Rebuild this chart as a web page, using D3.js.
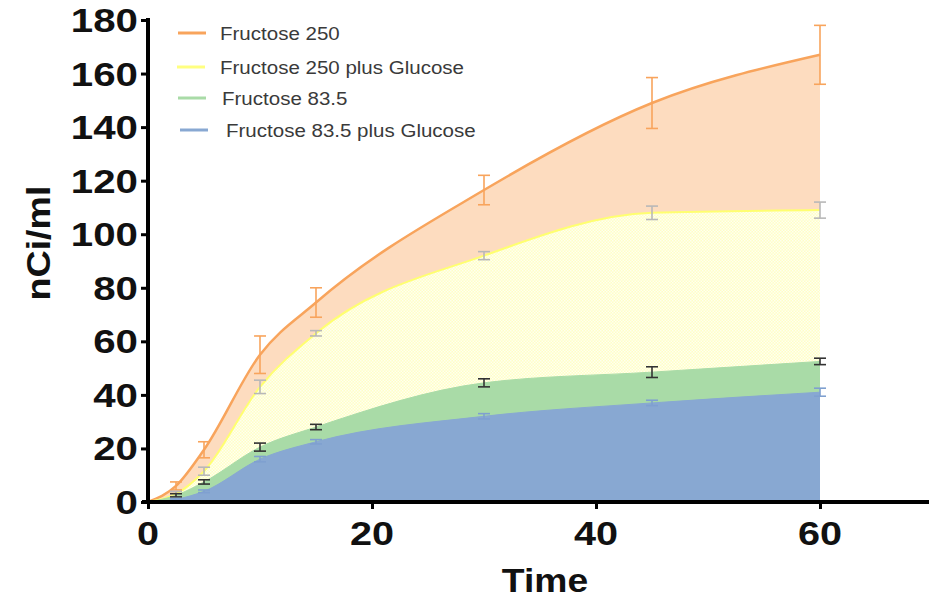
<!DOCTYPE html>
<html>
<head>
<meta charset="utf-8">
<script src="https://cdn.jsdelivr.net/npm/d3@7"></script>
<style>
  body { margin: 0; background: #fff; }
  svg { display: block; }
  .bold { font-family: "Liberation Sans", Arial, sans-serif; font-weight: bold; fill: #111; }
  .leg { font-family: "Liberation Sans", Arial, sans-serif; font-size: 19px; fill: #3a3a3a; }
</style>
</head>
<body>
<div id="chart"></div>
<script>
// time points (min)
const times = [0, 2.5, 5, 10, 15, 30, 45, 60];

const names = ['Fructose 250', 'Fructose 250 plus Glucose', 'Fructose 83.5', 'Fructose 83.5 plus Glucose'];

const fru250     = [0, 6, 19.5, 55, 74.5, 116.5, 149, 167];
const fru250Glc  = [0, 3, 11.5, 43, 63, 92, 108, 109];
const fru83      = [0, 2.5, 7.5, 20.5, 28, 44.5, 48.5, 52.5];
const fru83Glc   = [0, 1, 4, 16, 22.5, 32, 37, 41];

const err250     = [0, 1.5, 3, 7, 5.5, 5.5, 9.5, 11];
const err250Glc  = [0, 1, 1.5, 2.5, 1, 1.5, 2.5, 3];
const err83      = [0, 0.6, 0.8, 1.5, 1, 1.5, 2, 1.2];
const err83Glc   = [0, 0.3, 0.5, 1, 0.8, 1, 1, 1.5];

const xTicks = [0, 20, 40, 60];
const yTicks = [0, 20, 40, 60, 80, 100, 120, 140, 160, 180];

const W = 929, H = 603;

const svg = d3.select('#chart').append('svg')
  .attr('width', W)
  .attr('height', H);

const x = d3.scaleLinear().domain([0, 70]).range([148, 932]);
const y = d3.scaleLinear().domain([0, 180]).range([502, 20]);

// yellow dotted fill
const defs = svg.append('defs');
const pat = defs.append('pattern')
  .attr('id', 'dots')
  .attr('width', 3).attr('height', 3)
  .attr('patternUnits', 'userSpaceOnUse');
pat.append('rect').attr('width', 3).attr('height', 3).attr('fill', '#ffffc6');
pat.append('rect').attr('width', 1.5).attr('height', 1.5).attr('fill', '#fffff0');
pat.append('rect').attr('x', 1.5).attr('y', 1.5).attr('width', 1.5).attr('height', 1.5).attr('fill', '#fffff0');

const series = [
  { name: names[0], vals: fru250,    err: err250,    fill: '#fddcbf', line: '#f8a45c', bar: '#f8a45c', lw: 2.5 },
  { name: names[1], vals: fru250Glc, err: err250Glc, fill: 'url(#dots)', line: '#ffff70', bar: '#b8b8b8', lw: 2 },
  { name: names[2], vals: fru83,     err: err83,     fill: '#a9dba7', line: '#a9dba7', bar: '#333', lw: 1 },
  { name: names[3], vals: fru83Glc,  err: err83Glc,  fill: '#88a8d2', line: '#88a8d2', bar: '#7fa0d0', lw: 1 }
];

series.forEach(s => {
  s.pts = times.map((t, i) => ({ t: t, v: s.vals[i], e: s.err[i] }));
});

const area = d3.area()
  .x(d => x(d.t))
  .y0(y(0))
  .y1(d => y(d.v))
  .curve(d3.curveMonotoneX);

const line = d3.line()
  .x(d => x(d.t))
  .y(d => y(d.v))
  .curve(d3.curveMonotoneX);

const g = svg.append('g');

series.forEach(s => {
  g.append('path')
    .datum(s.pts)
    .attr('d', area)
    .attr('fill', s.fill);
  g.append('path')
    .datum(s.pts)
    .attr('d', line)
    .attr('fill', 'none')
    .attr('stroke', s.line)
    .attr('stroke-width', s.lw);
});

// error bars
series.forEach(s => {
  const eb = g.selectAll(null)
    .data(s.pts.filter(d => d.e > 0))
    .enter().append('g')
    .attr('stroke', s.bar)
    .attr('stroke-width', 1.6);
  eb.append('line')
    .attr('x1', d => x(d.t)).attr('x2', d => x(d.t))
    .attr('y1', d => y(d.v + d.e)).attr('y2', d => y(d.v - d.e));
  eb.append('line')
    .attr('x1', d => x(d.t) - 6).attr('x2', d => x(d.t) + 6)
    .attr('y1', d => y(d.v + d.e)).attr('y2', d => y(d.v + d.e));
  eb.append('line')
    .attr('x1', d => x(d.t) - 6).attr('x2', d => x(d.t) + 6)
    .attr('y1', d => y(d.v - d.e)).attr('y2', d => y(d.v - d.e));
});

// axes
const xAxis = svg.append('g')
  .attr('transform', `translate(0,${y(0)})`)
  .call(d3.axisBottom(x).tickValues(xTicks).tickSize(7).tickFormat(''));
xAxis.select('.domain').attr('d', `M${x(0) - 6},0H${W}`).attr('stroke', '#000').attr('stroke-width', 4);
xAxis.selectAll('.tick line').attr('stroke', '#000').attr('stroke-width', 3);

const yAxis = svg.append('g')
  .attr('transform', `translate(${x(0)},0)`)
  .call(d3.axisLeft(y).tickValues(yTicks).tickSize(7).tickFormat(''));
yAxis.select('.domain').attr('d', `M0,${y(180) - 2}V${y(0) + 2}`).attr('stroke', '#000').attr('stroke-width', 4);
yAxis.selectAll('.tick line').attr('stroke', '#000').attr('stroke-width', 3);

// tick labels
svg.selectAll('.xlab')
  .data(xTicks)
  .enter().append('text')
  .attr('class', 'bold')
  .attr('font-size', 33)
  .attr('text-anchor', 'middle')
  .attr('transform', d => `translate(${x(d)},545) scale(1.2,1)`)
  .text(d => d);

svg.selectAll('.ylab')
  .data(yTicks)
  .enter().append('text')
  .attr('class', 'bold')
  .attr('font-size', 33)
  .attr('text-anchor', 'end')
  .attr('transform', d => `translate(138,${y(d) + 12}) scale(1.22,1)`)
  .text(d => d);

// axis titles
svg.append('text')
  .attr('class', 'bold')
  .attr('font-size', 33)
  .attr('text-anchor', 'middle')
  .attr('transform', `translate(545,592) scale(1.13,1)`)
  .text('Time');

svg.append('text')
  .attr('class', 'bold')
  .attr('font-size', 33)
  .attr('text-anchor', 'middle')
  .attr('transform', `translate(50,243) rotate(-90) scale(1.14,1)`)
  .text('nCi/ml');

// legend
const legX = [178, 177, 178, 180];
const legT = [220, 220, 222, 226];
const legY = [33, 67, 98, 130];
series.forEach((s, i) => {
  svg.append('line')
    .attr('x1', legX[i]).attr('x2', legX[i] + 28)
    .attr('y1', legY[i]).attr('y2', legY[i])
    .attr('stroke', i === 1 ? '#ffff80' : s.line)
    .attr('stroke-width', 3);
  svg.append('text')
    .attr('class', 'leg')
    .attr('transform', `translate(${legT[i]},${legY[i] + 7}) scale(1.08,1)`)
    .text(s.name);
});
</script>
</body>
</html>
